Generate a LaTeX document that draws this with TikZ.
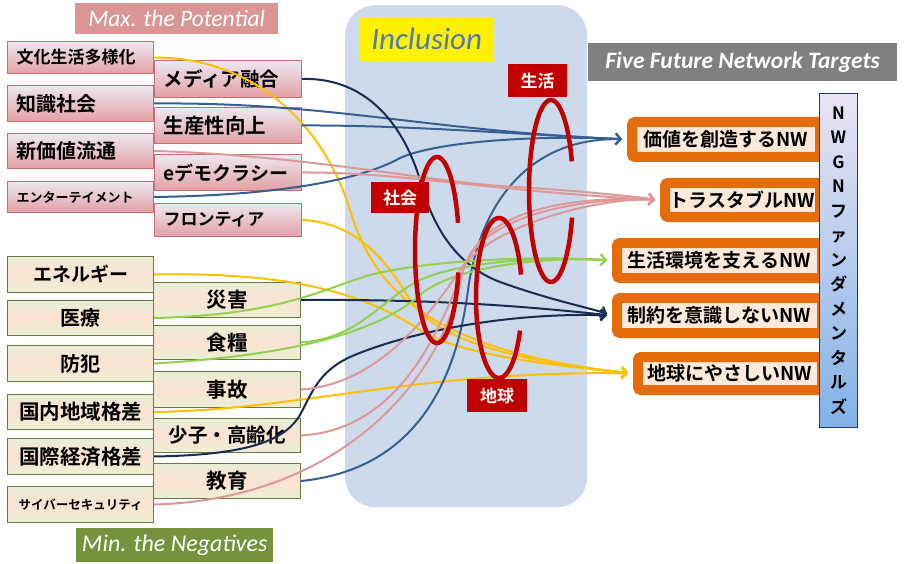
\documentclass[tikz,border=0pt]{standalone}
\usepackage{fontspec}
\newfontfamily\jp{Noto Sans CJK JP}[BoldFont={Noto Sans CJK JP Bold}]
\newfontfamily\carl{Carlito}
\usetikzlibrary{arrows.meta}
\definecolor{pinktop}{RGB}{236,232,242}
\definecolor{pinkbot}{RGB}{228,160,164}
\definecolor{pinkedge}{RGB}{196,110,115}
\definecolor{gtop}{RGB}{232,238,212}
\definecolor{gmid}{RGB}{251,226,210}
\definecolor{gbot}{RGB}{236,240,212}
\definecolor{gedge}{RGB}{110,118,70}
\definecolor{maxc}{RGB}{217,150,148}
\definecolor{minc}{RGB}{118,146,60}
\definecolor{panelc}{RGB}{205,218,236}
\definecolor{inclt}{RGB}{84,122,168}
\definecolor{fivec}{RGB}{128,128,128}
\definecolor{redc}{RGB}{192,0,0}
\definecolor{orc}{RGB}{228,108,10}
\definecolor{peach}{RGB}{253,233,217}
\definecolor{vtop}{RGB}{234,228,244}
\definecolor{vbot}{RGB}{130,178,232}
\definecolor{vedge}{RGB}{31,56,100}
\definecolor{cy}{RGB}{255,192,0}
\definecolor{cb}{RGB}{54,96,146}
\definecolor{cn}{RGB}{22,44,80}
\definecolor{cp}{RGB}{222,152,152}
\definecolor{cg}{RGB}{146,208,80}
\pgfdeclarelayer{fg}
\pgfsetlayers{main,fg}
\tikzset{
  fs/.style={font=\jp\bfseries\fontsize{#1}{#1}\selectfont},
  pbox/.style={draw=pinkedge, line width=1pt, top color=pinktop, bottom color=pinkbot,
     anchor=north west, inner xsep=9pt, inner ysep=0pt, align=left, text=black},
  pboxL/.style={pbox, minimum width=146pt, text width=128pt},
  pboxR/.style={pbox, minimum width=147pt, text width=129pt},
  gbox/.style={draw=gedge, line width=1pt, top color=gtop, bottom color=gbot, middle color=gmid,
     anchor=north west, inner sep=0pt, align=center, text=black},
  gboxL/.style={gbox, minimum width=146pt},
  gboxR/.style={gbox, minimum width=147pt},
  head/.style={anchor=north west, inner sep=0pt, text=white},
  redlab/.style={anchor=north west, inner sep=0pt, fill=redc, text=white, fs=17},
  target/.style={anchor=north west, inner sep=0pt, draw=orc, line width=10pt, fill=peach,
     rounded corners=3pt, fs=19, text=black},
  conn/.style={line width=2pt, shorten >=5pt, -{Straight Barb[length=5pt,width=11pt]}},
  yl/.style={conn, cy},
  bl/.style={conn, cb},
  nv/.style={conn, cn},
  pk/.style={conn, cp},
  gr/.style={conn, cg},
  loopline/.style={redc, line width=4.5pt},
}
\begin{document}
\begin{tikzpicture}[x=1pt,y=-1pt]
\useasboundingbox (0,0) rectangle (904,564);
\fill[white] (0,0) rectangle (904,564);
% inclusion panel
\node[anchor=north west, inner sep=0pt, fill=panelc, rounded corners=30pt,
      minimum width=242pt, minimum height=502pt] (panel) at (345,5) {};
\node[anchor=north west, inner sep=0pt, fill=yellow, minimum width=135pt, minimum height=44pt,
      font=\carl\itshape\fontsize{31}{31}\selectfont, text=inclt] (incl) at (359,17) {Inclusion};
% headers
\node[head, fill=maxc, minimum width=203pt, minimum height=31pt,
      font=\carl\itshape\fontsize{23.5}{23.5}\selectfont] (maxb) at (75,3) {Max. the Potential};
\node[head, fill=minc, minimum width=197pt, minimum height=34pt,
      font=\carl\itshape\fontsize{24}{24}\selectfont] (minb) at (76,528) {Min. the Negatives};
\node[head, fill=fivec, minimum width=309pt, minimum height=38pt,
      font=\carl\bfseries\itshape\fontsize{23.5}{23.5}\selectfont] (five) at (588,43) {Five Future Network Targets};
% top-left boxes
\node[pboxL, minimum height=32pt, fs=17] (a1) at (7,41) {文化生活多様化};
\node[pboxL, minimum height=36pt, fs=20] (a2) at (7,85) {知識社会};
\node[pboxL, minimum height=35pt, fs=20] (a3) at (7,133) {新価値流通};
\node[pboxL, minimum height=31pt, fs=13] (a4) at (7,181) {エンターテイメント};
\node[pboxR, minimum height=37pt, fs=19.5] (b1) at (154,60) {メディア融合};
\node[pboxR, minimum height=36pt, fs=20.5] (b2) at (154,107) {生産性向上};
\node[pboxR, minimum height=36pt, fs=19] (b3) at (154,154) {eデモクラシー};
\node[pboxR, minimum height=33pt, fs=17] (b4) at (154,203) {フロンティア};
% bottom-left boxes
\node[gboxL, minimum height=36pt, fs=19] (c1) at (7,256) {エネルギー};
\node[gboxL, minimum height=35pt, fs=20] (c2) at (7,300) {医療};
\node[gboxL, minimum height=36pt, fs=20] (c3) at (7,345) {防犯};
\node[gboxL, minimum height=35pt, fs=20.5] (c4) at (7,394) {国内地域格差};
\node[gboxL, minimum height=36pt, fs=20.5] (c5) at (7,438) {国際経済格差};
\node[gboxL, minimum height=36pt, fs=12.5] (c6) at (7,486) {サイバーセキュリティ};
\node[gboxR, minimum height=35pt, fs=20.5] (d1) at (153,282) {災害};
\node[gboxR, minimum height=34pt, fs=20.5] (d2) at (153,325) {食糧};
\node[gboxR, minimum height=36pt, fs=20.5] (d3) at (153,371) {事故};
\node[gboxR, minimum height=34pt, fs=19.5] (d4) at (153,418) {少子・高齢化};
\node[gboxR, minimum height=35pt, fs=20.5] (d5) at (153,463) {教育};
% targets
\begin{pgfonlayer}{fg}
\node[target, minimum width=188pt, minimum height=35pt] (t1) at (627,117) {価値を創造するNW};
\node[target, minimum width=155pt, minimum height=34pt] (t2) at (660,178) {トラスタブルNW};
\node[target, minimum width=205pt, minimum height=35pt] (t3) at (612,238) {生活環境を支えるNW};
\node[target, minimum width=205pt, minimum height=35pt] (t4) at (612,293) {制約を意識しないNW};
\node[target, minimum width=184pt, minimum height=33pt] (t5) at (633,352) {地球にやさしいNW};
\node[anchor=north west, inner sep=0pt, draw=vedge, line width=1pt, top color=vtop, bottom color=vbot,
      minimum width=38pt, minimum height=334pt, align=center,
      font=\jp\bfseries\fontsize{17}{24.5}\selectfont] (v) at (819,93)
      {N\\W\\G\\N\\フ\\ァ\\ン\\ダ\\メ\\ン\\タ\\ル\\ズ};
\end{pgfonlayer}
% connectors: yellow
\draw[yl] (a1.east) .. controls (250,57) and (322,120) .. (350,210) .. controls (372,282) and (420,350) .. (t5.west);
\draw[yl] (b4.east) .. controls (350,222) and (382,252) .. (410,300) .. controls (440,345) and (530,362) .. (t5.west);
\draw[yl] (c1.east) .. controls (280,272) and (360,290) .. (420,330) .. controls (460,355) and (550,365) .. (t5.west);
\draw[yl] (c4.east) .. controls (300,410) and (420,370) .. (t5.west);
% blue
\draw[bl] (a2.east) .. controls (330,102) and (420,130) .. (t1.west);
\draw[bl] (b2.east) .. controls (400,125) and (500,133) .. (t1.west);
\draw[bl] (a4.east) .. controls (300,195) and (370,175) .. (400,158) .. controls (440,140) and (550,135) .. (t1.west);
\draw[bl] (d5.east) .. controls (410,470) and (455,390) .. (468,290) .. controls (482,190) and (540,137) .. (t1.west);
% navy
\draw[nv] (b1.east) .. controls (370,77) and (405,130) .. (420,180) .. controls (432,225) and (455,265) .. (500,282) .. controls (550,300) and (590,308) .. (t4.west);
\draw[nv] (d1.east) .. controls (450,299) and (540,308) .. (t4.west);
\draw[nv] (c5.east) .. controls (250,455) and (285,440) .. (300,415) .. controls (312,393) and (318,372) .. (350,357) .. controls (400,335) and (500,312) .. (t4.west);
% green
\draw[gr] (c2.east) .. controls (280,315) and (320,290) .. (370,275) .. controls (420,262) and (520,255) .. (t3.west);
\draw[gr] (d2.east) .. controls (360,338) and (380,300) .. (420,280) .. controls (460,262) and (540,256) .. (t3.west);
\draw[gr] (c3.east) .. controls (300,355) and (380,330) .. (420,295) .. controls (450,268) and (540,256) .. (t3.west);
% pink
\draw[pk] (a3.east) .. controls (300,155) and (420,180) .. (500,186) .. controls (570,190) and (620,195) .. (t2.west);
\draw[pk] (b3.east) .. controls (400,172) and (480,190) .. (t2.west);
\draw[pk] (d3.east) .. controls (370,385) and (420,330) .. (460,270) .. controls (490,225) and (600,197) .. (t2.west);
\draw[pk] (d4.east) .. controls (400,430) and (440,330) .. (465,265) .. controls (490,200) and (600,197) .. (t2.west);
\draw[pk] (c6.east) .. controls (330,500) and (440,390) .. (462,275) .. controls (475,210) and (600,197) .. (t2.west);
% loops and red labels
\begin{pgfonlayer}{fg}
\draw[loopline] plot[domain=14:343, samples=80, smooth] ({437+22*cos(\x)}, {250+93*sin(\x)});
\draw[loopline] plot[domain=17:341, samples=80, smooth] ({551+22*cos(\x)}, {191+91*sin(\x)});
\draw[loopline] plot[domain=24:343, samples=80, smooth] ({499+23*cos(\x)}, {298+80*sin(\x)});
\node[redlab, minimum width=59pt, minimum height=33pt] (sei) at (508,64) {生活};
\node[redlab, minimum width=58pt, minimum height=31pt] (sha) at (371,182) {社会};
\node[redlab, minimum width=60pt, minimum height=33pt] (chi) at (467,379) {地球};
\end{pgfonlayer}
\end{tikzpicture}
\end{document}
